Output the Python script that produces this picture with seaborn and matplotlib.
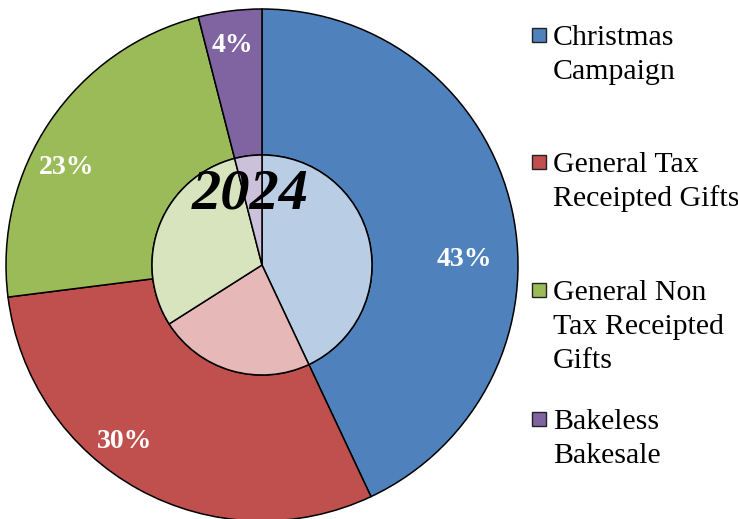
import matplotlib
matplotlib.use("Agg")
import matplotlib.pyplot as plt
import matplotlib.patches as mpatches
import seaborn as sns

# Donation sources, share of total (%)
categories = ["Christmas\nCampaign", "General Tax\nReceipted Gifts",
              "General Non\nTax Receipted\nGifts", "Bakeless\nBakesale"]
outer_pct = [43, 30, 23, 4]   # outer ring (labelled)
inner_pct = [43, 23, 30, 4]   # inner pie
ring_colors = ["#4F81BD", "#C0504D", "#9BBB59", "#8064A2"]
core_colors = ["#B9CDE5", "#E6B9B8", "#D7E4BD", "#CCC1DA"]
center_label = "2024"

sns.set_style("white")
plt.rcParams["font.family"] = ["Liberation Serif", "DejaVu Serif"]

W, H = 738, 519
fig = plt.figure(figsize=(W / 100, H / 100), dpi=100)

# pie axes: centre at (262, 265) px, outer radius 256 px
cx, cy, R = 262, 265, 256
L = 1.02
half = R * L
ax = fig.add_axes([(cx - half) / W, (H - cy - half) / H, 2 * half / W, 2 * half / H])

inner_r = 110 / R
edge = dict(edgecolor="black", linewidth=1.1)

wedges, texts, autotexts = ax.pie(
    outer_pct, radius=1.0, startangle=90, counterclock=False,
    colors=ring_colors, autopct="%d%%", pctdistance=0.84,
    wedgeprops=dict(width=1 - inner_r, **edge),
    textprops=dict(color="white", fontsize=20, fontweight="bold"),
)
ax.pie(inner_pct, radius=inner_r, startangle=90, counterclock=False,
       colors=core_colors, wedgeprops=edge)

# percentage label placement (pixel centres within the figure)
label_px = [(464, 256), (125, 439), (67, 164), (232, 42)]
for t, (px, py) in zip(autotexts, label_px):
    t.set_position(((px - cx) / R, (cy - py) / R))
    t.set_va("center_baseline")

ax.text(-0.047, 0.277, center_label, ha="center", va="center",
        fontsize=42, fontweight="bold", fontstyle="italic", color="black")

ax.set_xlim(-L, L)
ax.set_ylim(-L, L)
ax.set_aspect("equal")
ax.axis("off")

# legend on the right, one entry per category
entry_y = [35, 162, 290, 419]
line_gap = 34
sq = 14
for lab, col, y in zip(categories, ring_colors, entry_y):
    fig.add_artist(mpatches.Rectangle((532 / W, (H - y - sq / 2) / H), sq / W, sq / H,
                                      facecolor=col, edgecolor="#222222", linewidth=1.0,
                                      transform=fig.transFigure))
    for i, ln in enumerate(lab.split("\n")):
        fig.text(553 / W, (H - y - i * line_gap) / H, ln, ha="left",
                 va="center_baseline", fontsize=21.5, color="black")

fig.savefig("out.png", dpi=100)
